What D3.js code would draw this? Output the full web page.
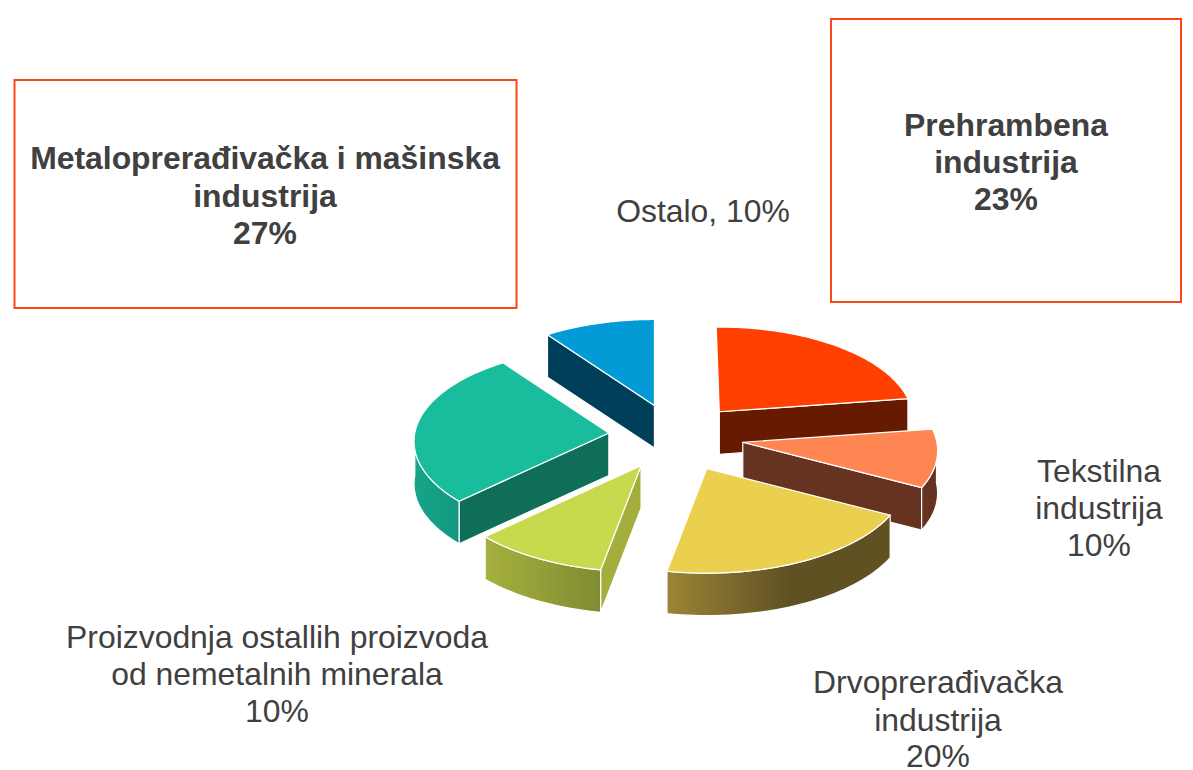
<!DOCTYPE html>
<html><head><meta charset="utf-8">
<script src="https://cdn.jsdelivr.net/npm/d3@7"></script>
<style>html,body{margin:0;padding:0;background:#fff}svg{display:block}text{font-family:"Liberation Sans",Arial,sans-serif;fill:#404040}</style>
</head><body><svg id="c" width="1193" height="770"></svg>
<script>
const categories = ["Prehrambena industrija","Tekstilna industrija","Drvoprerađivačka industrija","Proizvodnja ostallih proizvoda od nemetalnih minerala","Metaloprerađivačka i mašinska industrija","Ostalo"];
const values = [23,10,20,10,27,10];
const topColors = ["#FF4000","#FF8552","#EBCF4F","#C7D94D","#19BC9C","#029BD6"];
const wallColors = ["#661A00","#663320","#5F5122","#A3AE3C","#0F6E58","#003F5A"];
const rimFrom = ["#661A00","#663320","#9C8536","#A6B03E","#18A58A","#003F5A"];
const rimTo = ["#661A00","#663320","#5F5122","#7F8C32","#12987F","#003F5A"];
const drawOrder = [5,0,4,1,3,2];
const pulls = [0.35,0.35,0.37,0.35,0.34,0.35];
const radii = [0.985,0.99,1.015,1.03,0.99,1];

const cx=675, cy=436, rx=196, ry=94.5, persp=0.09, depth=42.5;
const deg=Math.PI/180;
const svg=d3.select("#c");
const defs=svg.append("defs");
const arcs=d3.pie().sort(null).value(d=>d)(values);
// the picture's right-hand slices sit about one degree counter-clockwise
const warp=d3.scaleLinear().domain([0,119*deg,191*deg,360*deg]).range([-1*deg,118*deg,190.8*deg,360*deg]);

// ground plane -> screen (u right, v toward the viewer, unit radius)
const project=(u,v)=>[rx*u*(1+persp*v), ry*v*(1+persp*v)];
const line=d3.line();
const down=p=>[p[0],p[1]+depth];
const stroke=s=>s.attr("stroke","#fff").attr("stroke-width",1.2).attr("stroke-linejoin","round");

drawOrder.forEach(i=>{
  const a=arcs[i], mid=(a.startAngle+a.endAngle)/2;
  const ap=project(pulls[i]*Math.sin(mid),-pulls[i]*Math.cos(mid));
  const apex=[cx+ap[0],cy+ap[1]];
  const rel=t0=>{const t=warp(t0),p=project(Math.sin(t),-Math.cos(t));return [apex[0]+radii[i]*p[0],apex[1]+radii[i]*p[1]];};
  const rim=d3.range(0,61).map(k=>rel(a.startAngle+(a.endAngle-a.startAngle)*k/60));
  const M=rel(mid);
  const g=svg.append("g");
  // radial walls: only those whose top face lies above the edge
  [rim[0],rim[60]].forEach(p=>{
    let dx=p[0]-apex[0], dy=p[1]-apex[1];
    if(dx<0){dx=-dx;dy=-dy;}
    if(dx*(M[1]-apex[1])-dy*(M[0]-apex[0])<0 && Math.abs(dx)>8){
      stroke(g.append("path").attr("d",line([apex,p,down(p),down(apex)])+"Z").attr("fill",wallColors[i]));
    }
  });
  // outer rim: front half only
  const lo=Math.max(a.startAngle,Math.PI/2), hi=Math.min(a.endAngle,3*Math.PI/2);
  if(hi>lo){
    const front=d3.range(0,41).map(k=>rel(lo+(hi-lo)*k/40));
    const xs=d3.extent(front,p=>p[0]);
    const id="rim"+i;
    const gr=defs.append("linearGradient").attr("id",id).attr("gradientUnits","userSpaceOnUse")
      .attr("x1",xs[0]).attr("x2",i===2?xs[0]+(xs[1]-xs[0])*0.55:xs[1]).attr("y1",0).attr("y2",0);
    gr.append("stop").attr("offset",0).attr("stop-color",rimFrom[i]);
    gr.append("stop").attr("offset",1).attr("stop-color",rimTo[i]);
    stroke(g.append("path").attr("d",line(front.concat(front.map(down).reverse()))+"Z").attr("fill",`url(#${id})`));
  }
  // top face
  stroke(g.append("path").attr("d",line([apex].concat(rim))+"Z").attr("fill",topColors[i]));
});

// label boxes
svg.append("rect").attr("x",14.5).attr("y",80).attr("width",502).attr("height",228).attr("fill","none").attr("stroke","#FA4616").attr("stroke-width",2);
svg.append("rect").attr("x",831).attr("y",19).attr("width",350).attr("height",283).attr("fill","none").attr("stroke","#FA4616").attr("stroke-width",2);

const pct=i=>values[i]+"%";
const labelLines=[
 {x:1006,ys:[136,173,210],lines:["Prehrambena","industrija",pct(0)],bold:true},
 {x:265,ys:[169,207,244],lines:["Metaloprerađivačka i mašinska","industrija",pct(4)],bold:true},
 {x:703,ys:[222],lines:["Ostalo, "+pct(5)]},
 {x:1099,ys:[482,519,556],lines:["Tekstilna","industrija",pct(1)]},
 {x:938,ys:[693,731,767],lines:["Drvoprerađivačka","industrija",pct(2)]},
 {x:277,ys:[648,685,722],lines:["Proizvodnja ostallih proizvoda","od nemetalnih minerala",pct(3)]}
];
labelLines.forEach(l=>l.lines.forEach((t,k)=>{
  svg.append("text").attr("x",l.x).attr("y",l.ys[k]).attr("text-anchor","middle")
    .attr("font-size",31.9).attr("font-weight",l.bold?"bold":"normal").text(t);
}));
</script></body></html>
